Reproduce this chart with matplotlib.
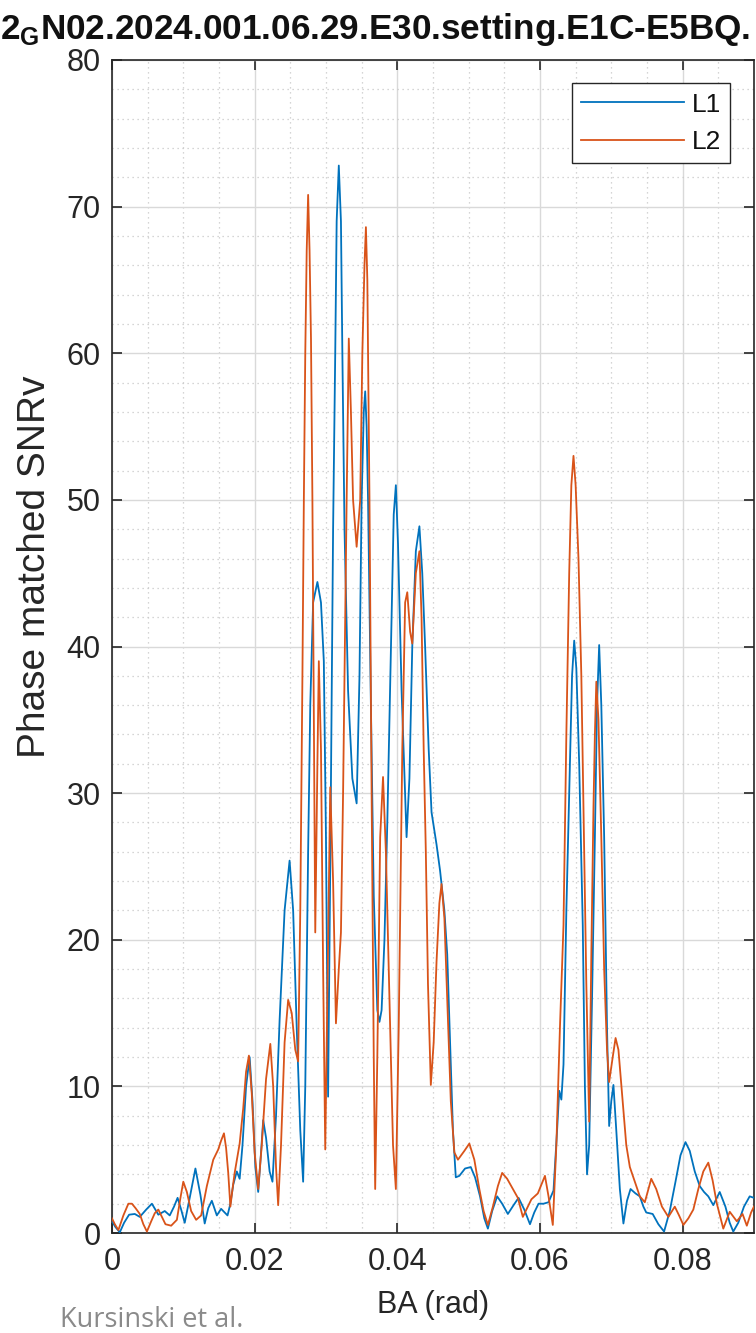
import matplotlib
matplotlib.use('Agg')
import matplotlib.pyplot as plt
from matplotlib.ticker import MultipleLocator

# ---------------- data ----------------
ba_l1 = [0.0000, 0.0005, 0.0011, 0.0017, 0.0024, 0.0032, 0.0039, 0.0048, 0.0056, 0.0065,
         0.0074, 0.0081, 0.0087, 0.0092, 0.0097, 0.0102, 0.0109, 0.0117, 0.0124, 0.0130,
         0.0135, 0.0140, 0.0147, 0.0153, 0.0162, 0.0166, 0.0170, 0.0175, 0.0179, 0.0183,
         0.0188, 0.0193, 0.0197, 0.0201, 0.0205, 0.0209, 0.0212, 0.0216, 0.0221, 0.0225,
         0.0230, 0.0235, 0.0242, 0.0249, 0.0254, 0.0259, 0.0264, 0.0268, 0.0271, 0.0275,
         0.0278, 0.0282, 0.0288, 0.0293, 0.0297, 0.0300, 0.0303, 0.0306, 0.0310, 0.0313,
         0.0315, 0.0318, 0.0321, 0.0323, 0.0326, 0.0331, 0.0337, 0.0343, 0.0347, 0.0350,
         0.0353, 0.0355, 0.0357, 0.0359, 0.0363, 0.0367, 0.0372, 0.0375, 0.0378, 0.0382,
         0.0386, 0.0392, 0.0395, 0.0398, 0.0401, 0.0406, 0.0413, 0.0417, 0.0421, 0.0426,
         0.0431, 0.0435, 0.0439, 0.0444, 0.0448, 0.0455, 0.0460, 0.0466, 0.0470, 0.0474,
         0.0478, 0.0482, 0.0487, 0.0495, 0.0503, 0.0509, 0.0516, 0.0522, 0.0527, 0.0533,
         0.0540, 0.0547, 0.0555, 0.0563, 0.0570, 0.0578, 0.0586, 0.0592, 0.0598, 0.0605,
         0.0612, 0.0619, 0.0624, 0.0627, 0.0630, 0.0633, 0.0637, 0.0642, 0.0645, 0.0648,
         0.0651, 0.0655, 0.0660, 0.0663, 0.0666, 0.0669, 0.0673, 0.0677, 0.0680, 0.0683,
         0.0686, 0.0690, 0.0694, 0.0697, 0.0700, 0.0703, 0.0707, 0.0712, 0.0717, 0.0722,
         0.0727, 0.0734, 0.0740, 0.0745, 0.0749, 0.0758, 0.0766, 0.0774, 0.0782, 0.0790,
         0.0797, 0.0804, 0.0810, 0.0817, 0.0824, 0.0830, 0.0836, 0.0843, 0.0852, 0.0860,
         0.0866, 0.0871, 0.0878, 0.0886, 0.0894, 0.0900]
snr_l1 = [0.8, 0.4, 0.05, 0.7, 1.25, 1.3, 1.1, 1.6, 2.0, 1.25,
          1.5, 1.2, 1.8, 2.4, 1.6, 0.7, 2.4, 4.4, 2.6, 0.65,
          1.7, 2.2, 1.2, 1.65, 1.2, 2.0, 3.3, 4.2, 3.7, 6.0,
          10.0, 12.0, 9.0, 4.5, 2.8, 5.5, 7.7, 6.5, 4.2, 3.5,
          8.0, 14.5, 22.0, 25.4, 22.0, 14.0, 7.0, 3.5, 10.0, 26.0,
          36.0, 43.0, 44.4, 43.0, 39.0, 27.0, 9.3, 25.0, 48.0, 60.0,
          69.0, 72.8, 69.0, 60.0, 48.0, 37.0, 31.0, 29.3, 38.0, 50.0,
          56.0, 57.4, 55.0, 50.0, 36.0, 23.0, 15.2, 14.4, 15.2, 20.0,
          28.0, 42.0, 49.0, 51.0, 47.0, 37.0, 27.0, 31.0, 40.0, 46.5,
          48.2, 45.0, 40.0, 33.0, 28.7, 26.5, 24.7, 22.0, 19.0, 13.0,
          7.0, 3.8, 3.9, 4.4, 4.5, 3.8, 2.5, 1.0, 0.3, 1.5,
          2.5, 2.0, 1.3, 1.9, 2.4, 1.6, 0.6, 1.4, 2.0, 2.0,
          2.1, 2.9, 7.0, 9.7, 9.1, 11.5, 22.0, 32.0, 38.0, 40.4,
          38.5, 32.0, 21.0, 10.0, 4.0, 6.0, 16.0, 27.0, 36.0, 40.1,
          36.0, 27.0, 14.0, 7.3, 9.0, 10.1, 7.0, 3.0, 0.65, 2.2,
          3.0, 2.7, 2.5, 1.8, 1.4, 1.3, 0.6, 0.1, 1.5, 3.5,
          5.3, 6.2, 5.6, 4.2, 3.2, 2.8, 2.5, 1.9, 2.8, 1.8,
          0.7, 0.1, 0.7, 1.8, 2.5, 2.4]

ba_l2 = [0.0000, 0.0004, 0.0009, 0.0016, 0.0023, 0.0028, 0.0033, 0.0039, 0.0044, 0.0049,
         0.0055, 0.0060, 0.0065, 0.0070, 0.0075, 0.0083, 0.0091, 0.0096, 0.0100, 0.0105,
         0.0111, 0.0118, 0.0125, 0.0133, 0.0142, 0.0149, 0.0153, 0.0157, 0.0160, 0.0163,
         0.0166, 0.0169, 0.0172, 0.0179, 0.0184, 0.0188, 0.0192, 0.0196, 0.0200, 0.0205,
         0.0210, 0.0216, 0.0222, 0.0226, 0.0230, 0.0233, 0.0237, 0.0242, 0.0247, 0.0252,
         0.0257, 0.0261, 0.0264, 0.0267, 0.0269, 0.0271, 0.0273, 0.0275, 0.0277, 0.0279,
         0.0281, 0.0283, 0.0285, 0.0288, 0.0290, 0.0293, 0.0296, 0.0299, 0.0303, 0.0306,
         0.0310, 0.0314, 0.0318, 0.0321, 0.0324, 0.0327, 0.0329, 0.0332, 0.0335, 0.0338,
         0.0343, 0.0348, 0.0351, 0.0354, 0.0356, 0.0358, 0.0359, 0.0361, 0.0364, 0.0367,
         0.0369, 0.0372, 0.0376, 0.0380, 0.0384, 0.0389, 0.0394, 0.0398, 0.0402, 0.0407,
         0.0411, 0.0414, 0.0418, 0.0421, 0.0426, 0.0431, 0.0434, 0.0437, 0.0440, 0.0443,
         0.0447, 0.0451, 0.0455, 0.0459, 0.0462, 0.0466, 0.0470, 0.0475, 0.0480, 0.0485,
         0.0494, 0.0501, 0.0508, 0.0515, 0.0521, 0.0527, 0.0534, 0.0541, 0.0547, 0.0554,
         0.0562, 0.0569, 0.0576, 0.0582, 0.0588, 0.0597, 0.0602, 0.0607, 0.0612, 0.0618,
         0.0623, 0.0628, 0.0633, 0.0637, 0.0641, 0.0644, 0.0647, 0.0650, 0.0654, 0.0658,
         0.0662, 0.0665, 0.0669, 0.0672, 0.0675, 0.0677, 0.0679, 0.0682, 0.0686, 0.0690,
         0.0694, 0.0697, 0.0702, 0.0706, 0.0710, 0.0716, 0.0721, 0.0726, 0.0733, 0.0740,
         0.0747, 0.0752, 0.0756, 0.0763, 0.0771, 0.0780, 0.0789, 0.0795, 0.0801, 0.0808,
         0.0815, 0.0822, 0.0829, 0.0836, 0.0842, 0.0848, 0.0857, 0.0866, 0.0876, 0.0884,
         0.0890, 0.0896, 0.0900]
snr_l2 = [1.0, 0.6, 0.2, 1.2, 2.0, 2.0, 1.7, 1.3, 0.6, 0.1,
          0.8, 1.35, 1.6, 1.1, 0.6, 0.5, 0.9, 2.4, 3.5, 2.8,
          1.5, 0.9, 1.2, 3.2, 5.0, 5.7, 6.3, 6.8, 5.8, 4.1,
          1.8, 3.0, 4.1, 6.1, 8.5, 11.0, 12.1, 9.5, 5.5, 3.0,
          6.0, 10.5, 12.9, 10.0, 4.5, 1.9, 6.0, 13.0, 15.9, 15.0,
          12.5, 11.7, 22.0, 38.0, 50.0, 60.0, 67.0, 70.8, 67.0, 61.0,
          50.0, 35.0, 20.5, 32.0, 39.0, 33.0, 18.0, 5.7, 20.0, 30.4,
          24.0, 14.3, 18.0, 20.5, 30.0, 42.0, 50.0, 61.0, 56.0, 50.0,
          46.8, 50.0, 60.0, 66.0, 68.6, 65.0, 60.0, 50.0, 30.0, 12.0,
          3.0, 12.0, 27.0, 31.1, 26.0, 16.0, 6.0, 3.0, 14.0, 33.0,
          43.0, 43.7, 41.0, 40.2, 45.0, 46.5, 42.0, 33.0, 26.0, 17.0,
          10.1, 13.0, 18.5, 22.5, 23.8, 21.5, 16.0, 9.0, 5.5, 5.0,
          5.6, 6.1, 5.0, 3.0, 1.5, 0.55, 1.8, 3.2, 4.1, 3.7,
          3.0, 2.4, 1.1, 1.7, 2.3, 2.7, 3.3, 3.9, 2.5, 0.55,
          6.0, 14.0, 21.0, 34.0, 45.0, 51.0, 53.0, 51.0, 46.0, 38.0,
          26.0, 17.0, 7.6, 19.0, 29.0, 34.0, 37.6, 35.0, 27.0, 18.0,
          12.5, 10.3, 12.0, 13.3, 12.5, 9.0, 6.0, 4.5, 3.5, 2.5,
          2.1, 3.0, 3.7, 3.0, 1.8, 1.1, 1.8, 1.2, 0.55, 1.0,
          1.6, 3.0, 4.2, 4.8, 3.6, 2.0, 0.3, 1.45, 0.8, 1.3,
          0.5, 1.4, 1.8]

series_names = ['L1', 'L2']
series_colors = ['#0072BD', '#D95319']
x_ticks = [0, 0.02, 0.04, 0.06, 0.08]
x_tick_labels = ['0', '0.02', '0.04', '0.06', '0.08']
y_ticks = [0, 10, 20, 30, 40, 50, 60, 70, 80]
title_text = r'2$_{\mathbf{G}}$N02.2024.001.06.29.E30.setting.E1C-E5BQ.'
x_label = 'BA (rad)'
y_label = 'Phase matched SNRv'
credit = 'Kursinski et al.'

# ---------------- figure ----------------
plt.rcParams['font.family'] = ['Liberation Sans', 'DejaVu Sans']
plt.rcParams['mathtext.fontset'] = 'custom'
plt.rcParams['mathtext.bf'] = 'Liberation Sans:bold'
plt.rcParams['mathtext.rm'] = 'Liberation Sans'

fig = plt.figure(figsize=(7.56, 13.33), dpi=100)
ax = fig.add_axes([0.1481, 0.0750, 0.8492, 0.8800])

ax.plot(ba_l1, snr_l1, color=series_colors[0], lw=1.3, label=series_names[0], zorder=3)
ax.plot(ba_l2, snr_l2, color=series_colors[1], lw=1.3, label=series_names[1], zorder=3)

ax.set_xlim(0, 0.09)
ax.set_ylim(0, 80)
ax.set_xticks(x_ticks)
ax.set_xticklabels(x_tick_labels)
ax.set_yticks(y_ticks)
ax.xaxis.set_minor_locator(MultipleLocator(0.005))
ax.yaxis.set_minor_locator(MultipleLocator(2))
ax.set_axisbelow(True)
ax.grid(which='major', color='#d9d9d9', lw=1.0, zorder=0)
ax.grid(which='minor', color='#c8c8c8', lw=0.9, linestyle=(0, (1, 3)), zorder=0)

ax.tick_params(which='major', direction='in', length=7, width=1.2,
               top=True, right=True, labelsize=22, colors='#262626')
ax.tick_params(axis='x', which='major', pad=10)
ax.tick_params(axis='y', which='major', pad=8)
ax.tick_params(which='minor', length=0)
for sp in ax.spines.values():
    sp.set_color('#262626')
    sp.set_linewidth(1.2)

ax.set_xlabel(x_label, fontsize=22, color='#262626')
ax.xaxis.set_label_coords(0.5, -0.061)
ax.xaxis.label.set_va('center')
ax.set_ylabel(y_label, fontsize=28, color='#262626')
ax.yaxis.set_label_coords(-0.12, 0.568)
ax.yaxis.label.set_va('center')

leg = ax.legend(loc='upper right', bbox_to_anchor=(0.963, 0.980), borderaxespad=0,
                fancybox=False, edgecolor='#262626', framealpha=1, fontsize=19,
                handlelength=3.9, labelspacing=0.5, borderpad=0.35, handletextpad=0.3)
leg.get_frame().set_linewidth(1.0)
for t in leg.get_texts():
    t.set_color('#111111')

fig.text(0.0, (1333 - 39) / 1333, title_text, fontsize=25.3, fontweight='bold',
         va='baseline', ha='left', color='#111111')

fig.text(60 / 756, (1333 - 1327) / 1333, credit, fontsize=19.5, color='#8a8a8a',
         va='baseline', ha='left', family=['Open Sans', 'DejaVu Sans'])

fig.savefig('out.png', dpi=100)
